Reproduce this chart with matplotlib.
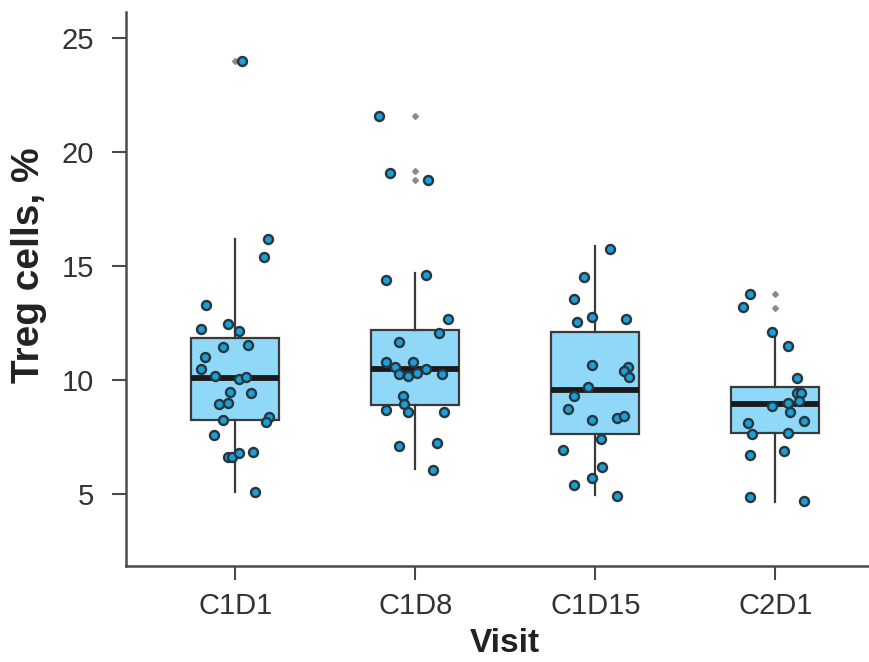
import numpy as np
import matplotlib.pyplot as plt

plt.rcParams['font.family'] = ['Liberation Sans', 'DejaVu Sans']

# === Data ===
visits = ["C1D1", "C1D8", "C1D15", "C2D1"]

treg_c1d1 = [24.0, 16.18, 15.39, 13.29, 12.24, 12.46, 12.15, 11.45, 11.54, 11.0,
             10.48, 10.18, 10.04, 10.13, 9.47, 9.42, 8.95, 8.99, 8.25, 8.38,
             8.16, 7.59, 6.62, 6.62, 6.8, 6.84, 5.09]
treg_c1d8 = [21.58, 19.08, 18.77, 14.39, 14.6, 12.68, 12.07, 11.67, 10.8, 10.57,
             10.8, 10.48, 10.31, 10.26, 10.18, 10.26, 9.3, 8.95, 8.68, 8.6,
             8.6, 7.1, 7.24, 6.05]
treg_c1d15 = [15.75, 14.52, 13.55, 12.54, 12.76, 12.68, 10.66, 10.57, 10.39, 10.13,
              9.69, 9.3, 8.73, 8.25, 8.33, 8.42, 7.41, 6.93, 6.18, 5.7,
              5.39, 4.91]
treg_c2d1 = [13.77, 13.2, 12.1, 11.49, 10.09, 9.43, 9.43, 8.99, 9.08, 8.86,
             8.6, 8.2, 8.11, 7.63, 7.68, 6.89, 6.71, 4.87, 4.69]

# horizontal jitter of each point (category units)
jit_c1d1 = [0.04, 0.18, 0.16, -0.16, -0.19, -0.04, 0.02, -0.07, 0.07, -0.17,
            -0.19, -0.11, 0.02, 0.06, -0.03, 0.09, -0.09, -0.04, -0.07, 0.19,
            0.17, -0.12, -0.04, -0.02, 0.02, 0.10, 0.11]
jit_c1d8 = [-0.20, -0.14, 0.07, -0.16, 0.06, 0.18, 0.13, -0.09, -0.16, -0.11,
            -0.01, 0.06, 0.01, -0.09, -0.04, 0.15, -0.07, -0.06, -0.16, -0.04,
            0.16, -0.09, 0.12, 0.10]
jit_c1d15 = [0.08, -0.06, -0.12, -0.10, -0.02, 0.17, -0.02, 0.18, 0.16, 0.19,
             -0.04, -0.12, -0.15, -0.02, 0.12, 0.16, 0.03, -0.18, 0.04, -0.02,
             -0.12, 0.12]
jit_c2d1 = [-0.14, -0.18, -0.02, 0.07, 0.12, 0.12, 0.14, 0.07, 0.13, -0.02,
            0.08, 0.16, -0.15, -0.13, 0.07, 0.05, -0.14, -0.14, 0.16]

# box statistics as drawn
q1 = [8.25, 8.90, 7.63, 7.68]
med = [10.09, 10.48, 9.56, 8.95]
q3 = [11.84, 12.19, 12.10, 9.69]
whis_lo = [5.10, 6.10, 4.96, 4.65]
whis_hi = [16.20, 14.69, 15.88, 12.10]
outliers = [[24.0], [21.58, 19.17, 18.77], [], [13.77, 13.16]]

values = [treg_c1d1, treg_c1d8, treg_c1d15, treg_c2d1]
jitters = [jit_c1d1, jit_c1d8, jit_c1d15, jit_c2d1]

# === Plot ===
fig = plt.figure(figsize=(8.69, 6.62), dpi=100)
ax = fig.add_axes([0.145, 0.145, 0.855, 0.837])

stats = []
for i in range(len(visits)):
    stats.append(dict(q1=q1[i], med=med[i], q3=q3[i], whislo=whis_lo[i],
                      whishi=whis_hi[i], fliers=outliers[i], label=visits[i]))

ax.bxp(stats, positions=range(len(visits)), widths=0.49, patch_artist=True,
       showcaps=False,
       boxprops=dict(facecolor='#8fd8f7', edgecolor='#3a3a3a', linewidth=1.6),
       medianprops=dict(color='#1a1a1a', linewidth=4.2, solid_capstyle='butt'),
       whiskerprops=dict(color='#3a3a3a', linewidth=1.6),
       flierprops=dict(marker='D', markersize=3, markerfacecolor='#8a8a8a',
                       markeredgecolor='#8a8a8a'),
       zorder=2)

for i, (vals, jit) in enumerate(zip(values, jitters)):
    x = i + np.array(jit)
    ax.scatter(x, vals, s=42, color='#1a9fd8', edgecolor='#27363e',
               linewidth=1.7, zorder=3)

ax.set_xlim(-0.606, 3.52)
ax.set_ylim(1.84, 26.14)
ax.set_yticks([5, 10, 15, 20, 25])
ax.set_xticks(range(len(visits)))
ax.set_xticklabels(visits)

for side in ['top', 'right']:
    ax.spines[side].set_visible(False)
for side in ['left', 'bottom']:
    ax.spines[side].set_color('#4a4a4a')
    ax.spines[side].set_linewidth(1.8)

ax.tick_params(axis='both', length=10, width=1.5, color='#4a4a4a',
               labelsize=21, labelcolor='#333333')
ax.tick_params(axis='y', pad=13)
ax.tick_params(axis='x', pad=9)
ax.set_xlabel('Visit', fontsize=24, fontweight='bold', color='#222222')
ax.set_ylabel('Treg cells, %', fontsize=28, fontweight='bold', color='#222222')
ax.xaxis.set_label_coords(0.51, -0.14, transform=ax.transAxes)
ax.yaxis.set_label_coords(-0.13, 0.543, transform=ax.transAxes)
ax.xaxis.label.set_va('center')
ax.yaxis.label.set_va('center')

fig.savefig('out.png', dpi=100)
